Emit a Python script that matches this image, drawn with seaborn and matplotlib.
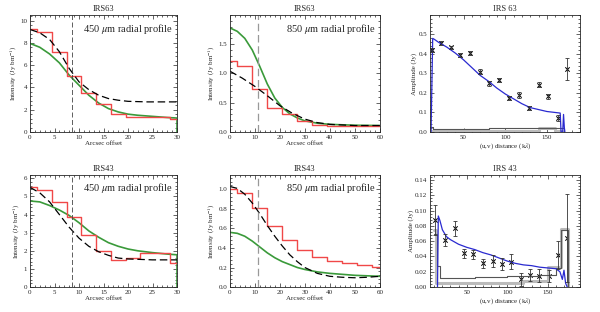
import numpy as np
import matplotlib
matplotlib.use("Agg")
import matplotlib.pyplot as plt
import seaborn as sns
from matplotlib.ticker import AutoMinorLocator

# ---- IRS63 450 um radial profile
p1_bin_x = [0, 1.5, 4.5, 7.5, 10.5, 13.5, 16.5, 19.5, 28.5, 30]
p1_bin_y = [9.2, 9.0, 7.2, 5.0, 3.5, 2.5, 1.6, 1.35, 1.2, 1.2]
p1_mod_x = [0, 2, 4, 6, 8, 10, 12, 14, 16, 18, 20, 24, 30]
p1_mod_y = [9.2, 8.9, 8.3, 7.2, 5.7, 4.5, 3.8, 3.3, 3.0, 2.85, 2.75, 2.7, 2.7]
p1_grn_x = [0, 2, 4, 6, 8, 10, 12, 14, 16, 18, 20, 22, 25, 28, 30, 30]
p1_grn_y = [7.95, 7.6, 7.0, 6.2, 5.1, 4.2, 3.3, 2.6, 2.1, 1.8, 1.6, 1.5, 1.4, 1.3, 1.25, 0]

# ---- IRS63 850 um radial profile
p2_bin_x = [0, 3, 9, 15, 21, 27, 33, 39, 45, 51, 57, 60]
p2_bin_y = [1.22, 1.13, 0.73, 0.41, 0.30, 0.18, 0.12, 0.11, 0.11, 0.10, 0.10, 0.10]
p2_mod_x = [0, 5, 10, 15, 20, 25, 30, 35, 40, 50, 60]
p2_mod_y = [1.04, 0.92, 0.78, 0.62, 0.45, 0.32, 0.22, 0.16, 0.13, 0.11, 0.11]
p2_grn_x = [0, 3, 6, 9, 12, 15, 18, 21, 24, 27, 30, 35, 40, 50, 60]
p2_grn_y = [1.78, 1.72, 1.60, 1.40, 1.12, 0.82, 0.58, 0.42, 0.31, 0.24, 0.19, 0.15, 0.13, 0.115, 0.11]

# ---- IRS43 450 um radial profile
p4_bin_x = [0, 1.5, 4.5, 7.5, 10.5, 13.5, 16.5, 19.5, 22.5, 28.5, 30]
p4_bin_y = [5.5, 5.35, 4.7, 3.85, 2.9, 2.0, 1.5, 1.6, 1.9, 1.3, 1.3]
p4_mod_x = [0, 2, 4, 6, 8, 10, 12, 14, 16, 18, 20, 25, 30]
p4_mod_y = [5.5, 5.2, 4.7, 4.0, 3.3, 2.7, 2.25, 1.95, 1.75, 1.6, 1.55, 1.5, 1.5]
p4_grn_x = [0, 2, 4, 6, 8, 10, 12, 14, 16, 18, 20, 22, 25, 28, 30, 30]
p4_grn_y = [4.75, 4.7, 4.5, 4.25, 3.95, 3.55, 3.1, 2.75, 2.45, 2.25, 2.1, 2.0, 1.9, 1.82, 1.78, 0]

# ---- IRS43 850 um radial profile
p5_bin_x = [0, 3, 9, 15, 21, 27, 33, 39, 45, 51, 57, 60]
p5_bin_y = [1.0, 0.96, 0.81, 0.62, 0.48, 0.38, 0.31, 0.27, 0.25, 0.23, 0.21, 0.21]
p5_mod_x = [0, 3, 6, 9, 12, 15, 18, 21, 24, 27, 30, 35, 40, 45, 50, 55, 60]
p5_mod_y = [1.03, 1.01, 0.95, 0.86, 0.75, 0.63, 0.52, 0.42, 0.33, 0.26, 0.2, 0.14, 0.11, 0.1, 0.095, 0.1, 0.11]
p5_grn_x = [0, 3, 6, 9, 12, 15, 18, 21, 24, 27, 30, 35, 40, 50, 60]
p5_grn_y = [0.56, 0.55, 0.52, 0.47, 0.41, 0.35, 0.3, 0.26, 0.23, 0.2, 0.18, 0.155, 0.14, 0.12, 0.11]

# ---- IRS 63 visibilities
uv63_x = [12, 23, 35, 46, 58, 70, 81, 93, 105, 116, 128, 140, 151, 163, 174]
uv63_y = [0.42, 0.455, 0.435, 0.393, 0.405, 0.31, 0.25, 0.268, 0.175, 0.19, 0.123, 0.243, 0.183, 0.072, 0.323]
uv63_err = [0.012, 0.01, 0.008, 0.01, 0.008, 0.012, 0.012, 0.01, 0.012, 0.015, 0.012, 0.014, 0.012, 0.015, 0.055]
uv63_mod_x = [11, 13, 15, 20, 30, 40, 50, 60, 70, 80, 90, 100, 110, 120, 130, 140, 150, 160, 166, 167, 169, 170, 171, 173]
uv63_mod_y = [0, 0.48, 0.475, 0.46, 0.435, 0.405, 0.37, 0.33, 0.29, 0.26, 0.225, 0.195, 0.17, 0.145, 0.125, 0.115, 0.105, 0.1, 0.097, 0.0, 0.0, 0.09, 0.02, -0.05]
uv63_dk_x = [10, 13, 80, 165, 170]
uv63_dk_y = [0.025, 0.015, 0.02, 0.02, 0]
uv63_lt_x = [10, 130, 140, 150, 160, 168]
uv63_lt_y = [0.005, 0.005, 0.02, 0.02, 0.005, 0.005]

# ---- IRS 43 visibilities
uv43_x = [11, 23.5, 35, 47, 58, 70, 82, 93, 104.5, 117, 128, 139.5, 151, 162.5, 174]
uv43_y = [0.088, 0.062, 0.077, 0.044, 0.043, 0.031, 0.034, 0.03, 0.033, 0.01, 0.016, 0.015, 0.014, 0.042, 0.064]
uv43_err = [0.02, 0.008, 0.01, 0.006, 0.006, 0.006, 0.008, 0.008, 0.01, 0.008, 0.008, 0.008, 0.008, 0.018, 0.058]
uv43_mod_x = [14, 15, 17, 20, 25, 30, 40, 50, 60, 70, 80, 90, 100, 110, 120, 130, 140, 150, 160, 165, 168, 170, 172, 174]
uv43_mod_y = [0, 0.093, 0.087, 0.075, 0.066, 0.062, 0.056, 0.052, 0.049, 0.045, 0.042, 0.038, 0.034, 0.031, 0.029, 0.028, 0.026, 0.025, 0.024, 0.02, 0.01, 0.022, 0.005, 0]
uv43_dk_x = [10, 14, 17, 60, 100, 140, 160, 166, 175]
uv43_dk_y = [0.07, 0.028, 0.012, 0.013, 0.014, 0.016, 0.025, 0.075, 0]
uv43_lt_x = [10, 12, 120, 150, 166, 175]
uv43_lt_y = [0.075, 0.005, 0.008, 0.026, 0.076, 0]

sns.set_theme(style="ticks")
plt.rcParams["font.family"] = ["Liberation Serif", "DejaVu Serif"]
plt.rcParams["mathtext.fontset"] = "stix"

fig = plt.figure(figsize=(6, 3.12), dpi=100)
W = 0.25
pos = [
    [0.05, 0.577, 0.245, 0.375], [0.383, 0.577, W, 0.375], [0.717, 0.577, W, 0.375],
    [0.05, 0.080, 0.245, 0.360], [0.383, 0.080, W, 0.360], [0.717, 0.080, W, 0.360],
]
axes = [fig.add_axes(p) for p in pos]

RED = "#f04848"
GRN = "#3a9a3a"


def style(ax, title, xlabel, ylabel):
    ax.set_title(title, fontsize=6, pad=3)
    ax.set_xlabel(xlabel, fontsize=5, labelpad=1)
    ax.set_ylabel(ylabel, fontsize=5, labelpad=1)
    ax.xaxis.set_minor_locator(AutoMinorLocator(5))
    ax.yaxis.set_minor_locator(AutoMinorLocator(5))
    ax.tick_params(which="both", direction="in", top=True, right=True, labelsize=5, pad=2, width=0.5)
    ax.tick_params(which="major", length=3)
    ax.tick_params(which="minor", length=1.5)
    for s in ax.spines.values():
        s.set_linewidth(0.6)


def profile(ax, bx, by, mx, my, gx, gy, vline, vcol, label):
    sns.lineplot(x=gx, y=gy, ax=ax, color=GRN, lw=1.2, estimator=None, sort=False)
    sns.lineplot(x=bx, y=by, ax=ax, color=RED, lw=1.0, drawstyle="steps-post", estimator=None, sort=False)
    sns.lineplot(x=mx, y=my, ax=ax, color="black", lw=0.9, linestyle=(0, (6, 3)), estimator=None, sort=False)
    ax.axvline(vline, color=vcol, lw=0.9 if vcol == "#999999" else 0.6, linestyle=(0, (6, 3)))
    ax.text(0.97, 0.88, label, transform=ax.transAxes, ha="right", va="center", fontsize=7.5)


profile(axes[0], p1_bin_x, p1_bin_y, p1_mod_x, p1_mod_y, p1_grn_x, p1_grn_y, 8.5, "#444444", r"450 $\mu$m radial profile")
axes[0].set(xlim=(0, 30), ylim=(0, 10.5), xticks=[0, 5, 10, 15, 20, 25, 30], yticks=[0, 2, 4, 6, 8, 10])
style(axes[0], "IRS63", "Arcsec offset", r"Intensity (Jy bm$^{-1}$)")

profile(axes[1], p2_bin_x, p2_bin_y, p2_mod_x, p2_mod_y, p2_grn_x, p2_grn_y, 11.3, "#999999", r"850 $\mu$m radial profile")
axes[1].set(xlim=(0, 60), ylim=(0, 2.0), xticks=[0, 10, 20, 30, 40, 50, 60], yticks=[0, 0.5, 1.0, 1.5])
axes[1].set_yticklabels(["0.0", "0.5", "1.0", "1.5"])
style(axes[1], "IRS63", "Arcsec offset", r"Intensity (Jy bm$^{-1}$)")

profile(axes[3], p4_bin_x, p4_bin_y, p4_mod_x, p4_mod_y, p4_grn_x, p4_grn_y, 8.6, "#444444", r"450 $\mu$m radial profile")
axes[3].set(xlim=(0, 30), ylim=(0, 6.2), xticks=[0, 5, 10, 15, 20, 25, 30], yticks=[0, 1, 2, 3, 4, 5, 6])
style(axes[3], "IRS43", "Arcsec offset", r"Intensity (Jy bm$^{-1}$)")

profile(axes[4], p5_bin_x, p5_bin_y, p5_mod_x, p5_mod_y, p5_grn_x, p5_grn_y, 11.3, "#999999", r"850 $\mu$m radial profile")
axes[4].set(xlim=(0, 60), ylim=(0, 1.15), xticks=[0, 10, 20, 30, 40, 50, 60], yticks=[0, 0.2, 0.4, 0.6, 0.8, 1.0])
axes[4].set_yticklabels(["0.0", "0.2", "0.4", "0.6", "0.8", "1.0"])
style(axes[4], "IRS43", "Arcsec offset", r"Intensity (Jy bm$^{-1}$)")


def visib(ax, x, y, err, mx, my, dx, dy, lx, ly):
    sns.lineplot(x=lx, y=ly, ax=ax, color="#bbbbbb", lw=2.2, drawstyle="steps-post", estimator=None, sort=False)
    sns.lineplot(x=dx, y=dy, ax=ax, color="#555555", lw=0.8, drawstyle="steps-post", estimator=None, sort=False)
    sns.lineplot(x=mx, y=my, ax=ax, color="#2a2ad0", lw=0.9, estimator=None, sort=False)
    ax.errorbar(x, y, yerr=err, fmt="none", ecolor="#333333", elinewidth=0.6, capsize=1.5, capthick=0.6)
    sns.scatterplot(x=x, y=y, ax=ax, marker="x", color="black", s=10, linewidth=0.7)


visib(axes[2], uv63_x, uv63_y, uv63_err, uv63_mod_x, uv63_mod_y, uv63_dk_x, uv63_dk_y, uv63_lt_x, uv63_lt_y)
axes[2].set(xlim=(10, 190), ylim=(0, 0.6), xticks=[50, 100, 150], yticks=[0, 0.1, 0.2, 0.3, 0.4, 0.5])
axes[2].set_yticklabels(["0.0", "0.1", "0.2", "0.3", "0.4", "0.5"])
style(axes[2], "IRS 63", r"(u,v) distance (k$\lambda$)", "Amplitude (Jy)")

visib(axes[5], uv43_x, uv43_y, uv43_err, uv43_mod_x, uv43_mod_y, uv43_dk_x, uv43_dk_y, uv43_lt_x, uv43_lt_y)
axes[5].set(xlim=(5, 190), ylim=(0, 0.147), xticks=[50, 100, 150], yticks=[0, 0.02, 0.04, 0.06, 0.08, 0.10, 0.12, 0.14])
axes[5].set_yticklabels(["0.00", "0.02", "0.04", "0.06", "0.08", "0.10", "0.12", "0.14"])
style(axes[5], "IRS 43", r"(u,v) distance (k$\lambda$)", "Amplitude (Jy)")

fig.savefig("out.png", dpi=100)
